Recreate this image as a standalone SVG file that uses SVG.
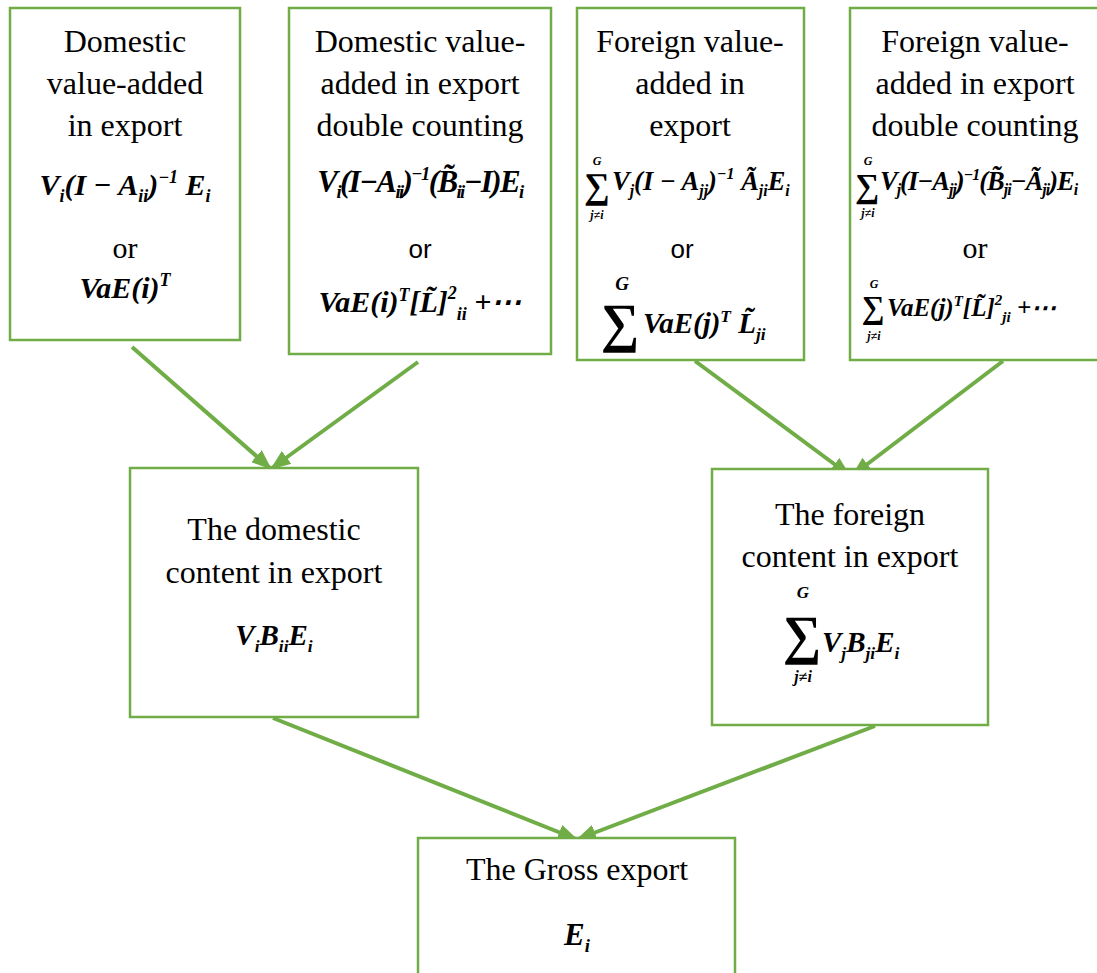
<svg xmlns="http://www.w3.org/2000/svg" width="1097" height="973" viewBox="0 0 1097 973">
<defs>
<style>
.box{fill:#fff;stroke:#70AD47;stroke-width:2.5}
.t{font-family:"Liberation Serif","Times New Roman",serif;font-size:32px;fill:#000;text-anchor:middle}
.or{font-family:"Liberation Serif",serif;font-size:30px;fill:#000;text-anchor:middle}
.ors{font-family:"Liberation Sans",Arial,sans-serif;font-size:26px;fill:#000;text-anchor:middle}
.m{font-family:"Liberation Serif","Times New Roman",serif;font-weight:bold;font-style:italic;fill:#000;text-anchor:middle}
.ml{font-family:"Liberation Serif","Times New Roman",serif;font-weight:bold;font-style:italic;fill:#000;text-anchor:start}
.s{font-size:60%}
.sg{font-family:"Liberation Serif","Times New Roman",serif;font-weight:bold;fill:#000;text-anchor:middle}
.lim{font-family:"Liberation Serif",serif;font-weight:bold;font-style:italic;fill:#000;text-anchor:middle}
.c{stroke:#70AD47;stroke-width:4;fill:none;marker-end:url(#ah)}
</style>
<marker id="ah" markerUnits="userSpaceOnUse" markerWidth="20" markerHeight="16" refX="18" refY="8" orient="auto">
<path d="M0,0 L20,8 L0,16 Z" fill="#70AD47"/>
</marker>
</defs>
<rect width="1097" height="973" fill="#fff"/>

<g id="connectors">
<line class="c" x1="132" y1="347" x2="270" y2="468"/>
<line class="c" x1="418" y1="362" x2="272" y2="468"/>
<line class="c" x1="695" y1="361" x2="849" y2="475"/>
<line class="c" x1="1003" y1="361" x2="853" y2="475"/>
<line class="c" x1="273" y1="718" x2="576" y2="839"/>
<line class="c" x1="875" y1="726" x2="578" y2="839"/>
</g>

<g id="dva">
<rect class="box" x="10" y="8" width="230" height="332"/>
<text class="t" x="125" y="52">Domestic</text>
<text class="t" x="125" y="94">value-added</text>
<text class="t" x="125" y="136">in export</text>
<text class="m" x="125" y="195" font-size="30">V<tspan class="s" dy="7">i</tspan><tspan dy="-7">(I − A</tspan><tspan class="s" dy="7">ii</tspan><tspan dy="-7">)</tspan><tspan class="s" dy="-12">−1</tspan><tspan dy="12"> E</tspan><tspan class="s" dy="7">i</tspan></text>
<text class="or" x="125" y="258">or</text>
<text class="m" x="125" y="298" font-size="30">VaE(i)<tspan class="s" dy="-12">T</tspan></text>
</g>

<g id="dvadc">
<rect class="box" x="289" y="8" width="262" height="346"/>
<text class="t" x="420" y="52">Domestic value-</text>
<text class="t" x="420" y="94">added in export</text>
<text class="t" x="420" y="136">double counting</text>
<text class="m" x="420" y="192" font-size="31" letter-spacing="-1.6">V<tspan class="s" dy="6">i</tspan><tspan dy="-6">(I−A</tspan><tspan class="s" dy="6">ii</tspan><tspan dy="-6">)</tspan><tspan class="s" dy="-12">−1</tspan><tspan dy="12">(B̃</tspan><tspan class="s" dy="6">ii</tspan><tspan dy="-6">−I)E</tspan><tspan class="s" dy="6">i</tspan></text>
<text class="ors" x="420" y="258">or</text>
<text class="m" x="420" y="312" font-size="30">VaE(i)<tspan class="s" dy="-11">T</tspan><tspan dy="11">[L̃]</tspan><tspan class="s" dy="-13">2</tspan><tspan class="s" dy="21">ii</tspan><tspan dy="-8"> +⋯</tspan></text>
</g>

<g id="fva">
<rect class="box" x="577" y="8" width="227" height="352"/>
<text class="t" x="690" y="52">Foreign value-</text>
<text class="t" x="690" y="94">added in</text>
<text class="t" x="690" y="136">export</text>
<text class="sg" x="597" y="198" font-size="36">∑</text>
<text class="lim" x="597" y="165" font-size="12">G</text>
<text class="lim" x="597" y="219" font-size="12">j≠i</text>
<text class="ml" x="612" y="190" font-size="26.5">V<tspan class="s" dy="6">j</tspan><tspan dy="-6">(I − A</tspan><tspan class="s" dy="6">jj</tspan><tspan dy="-6">)</tspan><tspan class="s" dy="-11">−1</tspan><tspan dy="11"> Ã</tspan><tspan class="s" dy="6">ji</tspan><tspan dy="-6">E</tspan><tspan class="s" dy="6">i</tspan></text>
<text class="ors" x="682" y="258">or</text>
<text class="sg" x="620" y="341" font-size="54">∑</text>
<text class="lim" x="622" y="290" font-size="19">G</text>
<text class="ml" x="643" y="333" font-size="29">VaE(j)<tspan class="s" dy="-11">T</tspan><tspan dy="11"> L̃</tspan><tspan class="s" dy="7">ji</tspan></text>
</g>

<g id="fvadc">
<rect class="box" x="850" y="8" width="260" height="352"/>
<text class="t" x="975" y="52">Foreign value-</text>
<text class="t" x="975" y="94">added in export</text>
<text class="t" x="975" y="136">double counting</text>
<text class="sg" x="867" y="197" font-size="34">∑</text>
<text class="lim" x="868" y="165" font-size="12">G</text>
<text class="lim" x="868" y="217" font-size="12">j≠i</text>
<text class="ml" x="880" y="190" font-size="26.5" letter-spacing="-1">V<tspan class="s" dy="5">j</tspan><tspan dy="-5">(I−A</tspan><tspan class="s" dy="5">jj</tspan><tspan dy="-5">)</tspan><tspan class="s" dy="-10">−1</tspan><tspan dy="10">(B̃</tspan><tspan class="s" dy="5">ji</tspan><tspan dy="-5">−Ã</tspan><tspan class="s" dy="5">ji</tspan><tspan dy="-5">)E</tspan><tspan class="s" dy="5">i</tspan></text>
<text class="or" x="975" y="258">or</text>
<text class="sg" x="873" y="318" font-size="32">∑</text>
<text class="lim" x="874" y="288" font-size="12">G</text>
<text class="lim" x="874" y="340" font-size="12">j≠i</text>
<text class="ml" x="887" y="316" font-size="25">VaE(j)<tspan class="s" dy="-10">T</tspan><tspan dy="10">[L̃]</tspan><tspan class="s" dy="-11">2</tspan><tspan class="s" dy="17">ji</tspan><tspan dy="-6"> +⋯</tspan></text>
</g>

<g id="dc">
<rect class="box" x="130" y="468" width="288" height="249"/>
<text class="t" x="274" y="540">The domestic</text>
<text class="t" x="274" y="583">content in export</text>
<text class="m" x="274" y="645" font-size="29">V<tspan class="s" dy="7">i</tspan><tspan dy="-7">B</tspan><tspan class="s" dy="7">ii</tspan><tspan dy="-7">E</tspan><tspan class="s" dy="7">i</tspan></text>
</g>

<g id="fc">
<rect class="box" x="712" y="469" width="276" height="256"/>
<text class="t" x="850" y="525">The foreign</text>
<text class="t" x="850" y="567">content in export</text>
<text class="sg" x="802" y="653" font-size="54">∑</text>
<text class="lim" x="803" y="598" font-size="17">G</text>
<text class="lim" x="803" y="682" font-size="16">j≠i</text>
<text class="ml" x="822" y="652" font-size="29">V<tspan class="s" dy="7">j</tspan><tspan dy="-7">B</tspan><tspan class="s" dy="7">ji</tspan><tspan dy="-7">E</tspan><tspan class="s" dy="7">i</tspan></text>
</g>

<g id="ge">
<rect class="box" x="418" y="838" width="317" height="145"/>
<text class="t" x="577" y="880">The Gross export</text>
<text class="m" x="577" y="945" font-size="31">E<tspan class="s" dy="7">i</tspan></text>
</g>
</svg>
